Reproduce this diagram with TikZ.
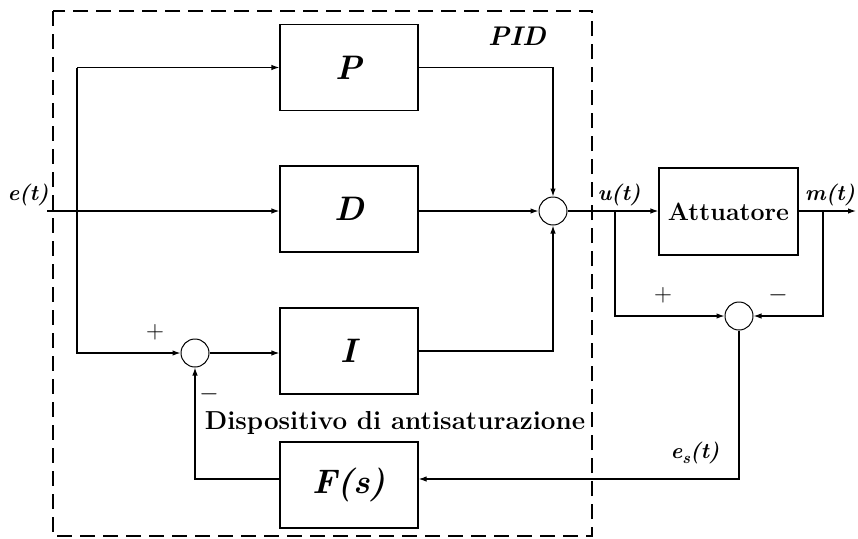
\documentclass[tikz,border=0pt]{standalone}
\usetikzlibrary{arrows.meta}
\begin{document}
\begin{tikzpicture}[x=1pt,y=-1pt,
  line width=1.2pt,
  arr/.style={-{Latex[length=8pt,width=5.5pt]}},
  blk/.style={draw,minimum width=138pt,minimum height=86pt,inner sep=0pt,font=\fontsize{34}{40}\selectfont\bfseries\itshape},
  sumj/.style={draw,circle,minimum size=28pt,inner sep=0pt,line width=1pt},
  lbl/.style={font=\fontsize{22}{26}\selectfont\bfseries\itshape,inner sep=0pt},
  sgn/.style={font=\fontsize{23}{26}\selectfont,inner sep=0pt}]
\useasboundingbox (0,0) rectangle (858,538);
% dashed PID frame
\draw[dash pattern=on 15pt off 8pt,line width=1.1pt] (53,11) rectangle (592,536);
% blocks
\node[blk] (P) at (349,67.5) {P};
\node[blk] (D) at (349,209) {D};
\node[blk] (I) at (349,351) {I};
\node[blk] (F) at (349,485) {F(s)};
\node[blk,minimum width=139pt,minimum height=87pt,font=\fontsize{25}{30}\selectfont\bfseries] (A) at (728.5,211.5) {Attuatore};
% summing junctions
\node[sumj] (s1) at (553,211) {};
\node[sumj] (s2) at (195,353) {};
\node[sumj] (s3) at (739,316) {};
% coordinates
\coordinate (ein) at (47,211);
\coordinate (b1) at (77,211);
\coordinate (ub) at (615,211);
\coordinate (mb) at (823,211);
\coordinate (mout) at (856,211);
\coordinate (fc) at (739,479);
% connectors
\draw[arr] (ein) -- (ein -| D.west);
\draw[arr] (b1 |- P.west) -- (P.west);
\draw[arr] (b1 |- P.west) |- (s2.west);
\draw[arr] (s2.east) -- (s2.east -| I.west);
\draw[arr] (P.east) -| (s1.north);
\draw[arr] (s1.west -| D.east) -- (s1.west);
\draw[arr] (I.east) -| (s1.south);
\draw[arr] (s1.east) -- (s1.east -| A.west);
\draw[arr] (A.east |- mout) -- (mout);
\draw[arr] (ub) |- (s3.west);
\draw[arr] (mb) |- (s3.east);
\draw[arr] (s3.south) -- (fc) -- (fc -| F.east);
\draw[arr] (fc -| F.west) -| (s2.south);
% labels
\node[lbl] (le) at (28,195) {e(t)};
\node[lbl] (lu) at (619,195) {u(t)};
\node[lbl] (lm) at (830,195) {m(t)};
\node[lbl] (les) at (695,453) {e\raisebox{-5pt}{\fontsize{16}{18}\selectfont s}(t)};
\node[font=\fontsize{27}{32}\selectfont\bfseries\itshape,inner sep=0pt] (lpid) at (517,36) {PID};
\node[font=\fontsize{26}{30}\selectfont\bfseries,inner sep=0pt] (ldisp) at (395,423) {Dispositivo di antisaturazione};
\node[sgn] (p1) at (155,332) {$+$};
\node[sgn] (m1) at (209,394) {$-$};
\node[sgn] (p2) at (663,295) {$+$};
\node[sgn] (m2) at (778,295) {$-$};
\end{tikzpicture}
\end{document}
